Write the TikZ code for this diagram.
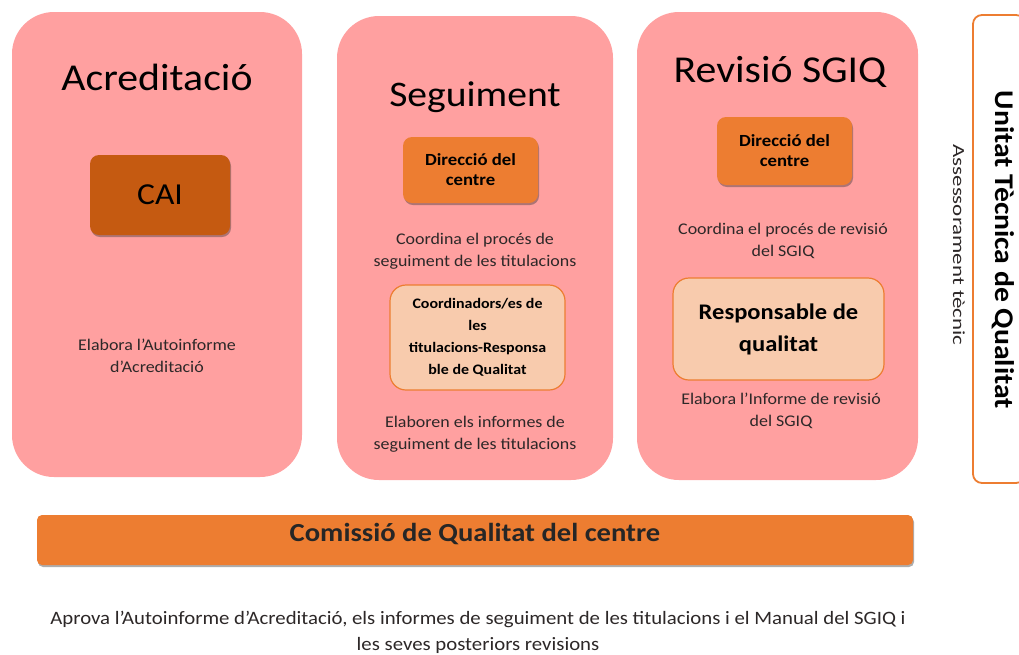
\documentclass[tikz,border=0pt]{standalone}
\usepackage{fontspec}
\setmainfont{Carlito}[FakeStretch=1.1]
\newfontfamily\widefont{Carlito}[FakeStretch=1.35]
\usepackage{tikz}
\usetikzlibrary{shadows}
\usetikzlibrary{calc}

\definecolor{panelpink}{RGB}{255,160,160}
\definecolor{caibrown}{RGB}{197,90,17}
\definecolor{dirorange}{RGB}{237,125,49}
\definecolor{peach}{RGB}{248,203,173}
\definecolor{bodygray}{RGB}{45,40,40}

\begin{document}
\begin{tikzpicture}[x=1pt,y=-1pt,
  panel/.style={shape=rectangle,fill=panelpink,rounded corners=42pt,inner sep=0pt},
  boxshadow/.style={drop shadow={shadow xshift=1pt,shadow yshift=-2pt,opacity=0.4,fill=black!80}},
  caibox/.style={shape=rectangle,fill=caibrown,rounded corners=9pt,boxshadow},
  dirbox/.style={shape=rectangle,fill=dirorange,rounded corners=9pt,boxshadow,align=center,
    font=\fontsize{17}{20}\selectfont\bfseries},
  peachbox/.style={shape=rectangle,fill=peach,draw=dirorange,line width=1.2pt,rounded corners=16pt,align=center},
  title/.style={font=\fontsize{38}{40}\selectfont,text=black},
  note/.style={font=\fontsize{16.3}{22}\selectfont,text=bodygray,align=center}]
\useasboundingbox (0,0) rectangle (1019,654);
\fill[white] (0,0) rectangle (1019,654);
% columns
\node (acr) [panel,minimum width=290,minimum height=465] at (157,244.5) {};
\node (seg) [panel,minimum width=276,minimum height=464] at (475,248) {};
\node (rev) [panel,minimum width=281,minimum height=468] at (777.5,246) {};
\draw (999,249) node (utq) [shape=rectangle,draw=dirorange,fill=white,line width=1.8pt,rounded corners=9pt,
  minimum width=52,minimum height=468] {};
% titles
\draw (157,77) node (acrtitle) [title] {Acreditació};
\draw (475,97) node (segtitle) [title,font=\fontsize{36}{38}\selectfont] {Seguiment};
\draw (780,72) node (revtitle) [title] {Revisió SGIQ};
% Acreditacio
\draw (160,195) node (cai) [caibox,minimum width=140,minimum height=80,font=\fontsize{30.5}{32}\selectfont] {CAI};
\draw (157,356) node (acrnote) [note] {Elabora l’Autoinforme\\d’Acreditació};
% Seguiment
\draw (470.5,170) node (segdir) [dirbox,minimum width=135,minimum height=66] {Direcció del\\centre};
\draw (475,251) node (segnote1) [note] {Coordina el procés de\\seguiment de les titulacions};
\draw (477.5,337.5) node (coord) [peachbox,minimum width=175,minimum height=105,
  font=\fontsize{14.5}{22}\selectfont\bfseries] {Coordinadors/es de\\les\\titulacions-Responsa\\ble de Qualitat};
\draw (475,434) node (segnote2) [note] {Elaboren els informes de\\seguiment de les titulacions};
% Revisio SGIQ
\draw (784.5,151) node (revdir) [dirbox,minimum width=135,minimum height=68] {Direcció del\\centre};
\draw (783,241) node (revnote1) [note] {Coordina el procés de revisió\\del SGIQ};
\draw (778.5,329) node (resp) [peachbox,minimum width=211,minimum height=102,
  font=\fontsize{22.3}{32}\selectfont\bfseries] {Responsable de\\qualitat};
\draw (781,411) node (revnote2) [note] {Elabora l’Informe de revisió\\del SGIQ};
% Unitat Tecnica
\draw (959,245) node (asses) [rotate=-90,font=\widefont\fontsize{17}{18}\selectfont,text=bodygray] {Assessorament tècnic};
\draw (1003,250) node (utqtext) [rotate=-90,font=\fontsize{27}{28}\selectfont\bfseries,text=black] {Unitat Tècnica de Qualitat};
% Comissio
\draw (475,540) node (cq) [shape=rectangle,fill=dirorange,rounded corners=5pt,boxshadow,
  minimum width=876,minimum height=50] {};
\draw (475,534) node (cqtext) [font=\fontsize{26}{28}\selectfont\bfseries,text=black!85] {Comissió de Qualitat del centre};
\draw (478,632) node (aprova) [note,font=\fontsize{18.9}{26}\selectfont] {Aprova l’Autoinforme d’Acreditació, els informes de seguiment de les titulacions i el Manual del SGIQ i\\les seves posteriors revisions};
\end{tikzpicture}
\end{document}
